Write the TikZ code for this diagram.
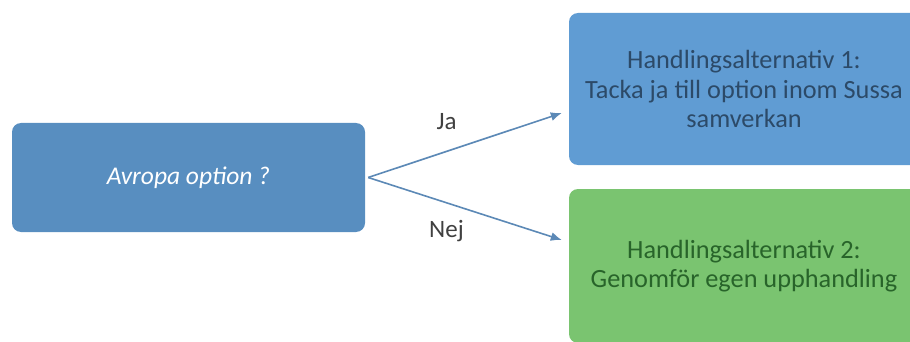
\documentclass[tikz,border=0pt]{standalone}
\usepackage{fontspec}
\setmainfont{Carlito}
\usetikzlibrary{arrows.meta}
\definecolor{leftblue}{RGB}{88,142,192}
\definecolor{topblue}{RGB}{96,156,211}
\definecolor{boxgreen}{RGB}{122,196,112}
\definecolor{arrowblue}{RGB}{92,137,182}
\definecolor{darkbluetext}{RGB}{44,74,104}
\definecolor{darkgreentext}{RGB}{40,100,42}
\definecolor{labelgray}{RGB}{64,64,64}
\tikzset{
  box/.style={rectangle, rounded corners=9pt, inner sep=0pt, align=center, font=\fontsize{26.3}{29.5}\selectfont},
  conn/.style={draw=arrowblue, line width=1.6pt, -{Latex[length=11pt,width=9pt]}},
  lbl/.style={text=labelgray, font=\fontsize{25}{29}\selectfont}
}
\begin{document}
\begin{tikzpicture}[x=1pt,y=-1pt]
\useasboundingbox (0,0) rectangle (910,342);
\node[box, fill=leftblue, text=white, minimum width=353pt, minimum height=109pt, font=\fontsize{25.5}{29}\selectfont\itshape] (q) at (188.5,177.5) {Avropa option ?};
\node[box, fill=topblue, text=darkbluetext, minimum width=350pt, minimum height=152pt] (a1) at (744,89) {Handlingsalternativ 1:\\Tacka ja till option inom Sussa\\samverkan};
\node[box, fill=boxgreen, text=darkgreentext, minimum width=350pt, minimum height=154pt] (a2) at (744,266) {Handlingsalternativ 2:\\Genomför egen upphandling};
\coordinate (start) at ([xshift=3pt]q.east);
\coordinate (jaend) at ([xshift=-7pt,yshift=-24pt]a1.west);
\coordinate (nejend) at ([xshift=-7pt,yshift=26pt]a2.west);
\draw[conn] (start) -- (jaend);
\draw[conn] (start) -- (nejend);
\node[lbl] (ja) at (446.5,122) {Ja};
\node[lbl] (nej) at (446.5,231) {Nej};
\end{tikzpicture}
\end{document}
